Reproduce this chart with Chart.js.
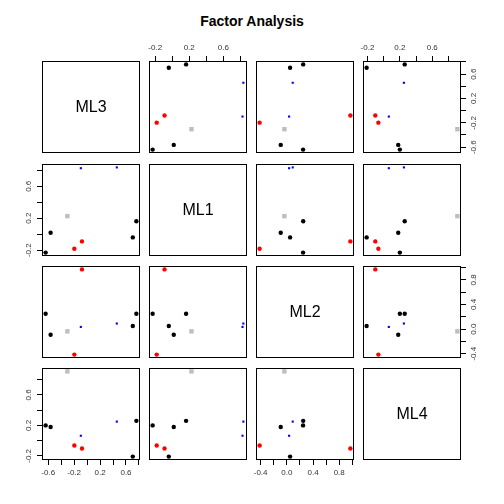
<!DOCTYPE html>
<html>
<head>
<meta charset="utf-8">
<script src="https://cdn.jsdelivr.net/npm/chart.js@4.4.0/dist/chart.umd.min.js"></script>
<style>
  body { margin: 0; background: #fff; }
  #wrap { position: relative; width: 504px; height: 504px; overflow: hidden; background: #fff; }
  #wrap canvas { position: absolute; }
  #title { position: absolute; left: 0; width: 504px; top: 13px; line-height: 16px; text-align: center;
           font: bold 14px 'Liberation Sans', Arial, sans-serif; color: #000; }
</style>
</head>
<body>
<div id="wrap"><div id="title">Factor Analysis</div></div>
<script>
// factor loadings, one entry per item
const factors = ['ML3', 'ML1', 'ML2', 'ML4'];
const ML3 = [0.705, 0.76, 0.458, -0.097, -0.079, -0.197, -0.305, -0.563, -0.64];
const ML1 = [-0.04, 0.163, 0.836, 0.826, -0.09, -0.182, 0.226, 0.018, -0.23];
const ML2 = [0.05, 0.25, 0.09, 0.035, 0.97, -0.415, -0.037, -0.093, 0.248];
const ML4 = [-0.21, 0.26, 0.25, 0.064, -0.103, -0.065, 0.91, 0.18, 0.2];
// cluster each item was put in (1..4)
const cluster = [1, 1, 2, 2, 3, 3, 4, 1, 1];

// ticks per factor, R only labels every other one
const ticksML3 = [-0.6, -0.4, -0.2, 0, 0.2, 0.4, 0.6, 0.8];
const labelsML3 = ['-0.6', '', '-0.2', '', '0.2', '', '0.6', ''];
const ticksML1 = [-0.2, 0, 0.2, 0.4, 0.6, 0.8];
const labelsML1 = ['-0.2', '', '0.2', '', '0.6', ''];
const ticksML2 = [-0.4, -0.2, 0, 0.2, 0.4, 0.6, 0.8, 1.0];
const labelsML2 = ['-0.4', '', '0.0', '', '0.4', '', '0.8', ''];
const ticksML4 = [-0.2, 0, 0.2, 0.4, 0.6, 0.8];
const labelsML4 = ['-0.2', '', '0.2', '', '0.6', ''];

const values = { ML3, ML1, ML2, ML4 };
const tickVals = { ML3: ticksML3, ML1: ticksML1, ML2: ticksML2, ML4: ticksML4 };
const tickLabels = { ML3: labelsML3, ML1: labelsML1, ML2: labelsML2, ML4: labelsML4 };

// look of each cluster
const colour = { 1: '#000000', 2: '#0000FF', 3: '#FF0000', 4: '#BEBEBE' };
const shape = { 1: 'circle', 2: 'rect', 3: 'circle', 4: 'rect' };
const size = { 1: 2.2, 2: 1.5, 3: 2.2, 4: 3.1 };

// panel grid
const colLeft = [42, 149, 256, 363];
const rowTop = [61, 164, 266, 368];
const W = 98, H = 92, M = 30;
const font = "'Liberation Sans', Arial, sans-serif";

// R pairs() stretches each axis 4% past the data
function range(v) {
  const lo = Math.min(...v), hi = Math.max(...v);
  const pad = (hi - lo) * 0.04;
  return [lo - pad, hi + pad];
}

// box round every panel, and the factor name on the diagonal
const boxPlugin = {
  id: 'box',
  afterDraw(chart, args, opts) {
    const a = chart.chartArea, ctx = chart.ctx;
    ctx.save();
    ctx.strokeStyle = '#000';
    ctx.lineWidth = 1;
    ctx.strokeRect(a.left + 0.5, a.top + 0.5, a.right - a.left - 1, a.bottom - a.top - 1);
    if (opts.label) {
      ctx.fillStyle = '#000';
      ctx.font = '16px ' + font;
      ctx.textAlign = 'center';
      ctx.textBaseline = 'middle';
      ctx.fillText(opts.label, (a.left + a.right) / 2, (a.top + a.bottom) / 2 + 1);
    }
    ctx.restore();
  }
};

function axisOpts(name, pos, show, isY) {
  const [min, max] = range(values[name]);
  return {
    type: 'linear',
    position: pos,
    min: min,
    max: max,
    bounds: 'data',
    afterBuildTicks: s => { s.ticks = tickVals[name].map(v => ({ value: v })); },
    afterFit: s => {
      if (isY) s.width = M; else s.height = M;
      s.paddingLeft = s.paddingRight = s.paddingTop = s.paddingBottom = 0;
    },
    border: { display: false },
    grid: { display: show, drawOnChartArea: false, color: '#000', lineWidth: 1, tickLength: 5 },
    ticks: {
      display: show,
      autoSkip: false,
      color: '#333',
      font: { family: font, size: 8 },
      padding: isY ? 1 : 3,
      minRotation: isY ? 90 : 0,
      maxRotation: isY ? 90 : 0,
      crossAlign: isY ? 'center' : 'near',
      callback: (v, i) => tickLabels[name][i]
    }
  };
}

const wrap = document.getElementById('wrap');

for (let i = 0; i < 4; i++) {
  for (let j = 0; j < 4; j++) {
    const xName = factors[j], yName = factors[i];
    const xPos = i === 0 ? 'top' : 'bottom';
    const yPos = j === 3 ? 'right' : 'left';
    const showX = (i === 0 && j % 2 === 1) || (i === 3 && j % 2 === 0);
    const showY = (j === 0 && i % 2 === 1) || (j === 3 && i % 2 === 0);

    const canvas = document.createElement('canvas');
    canvas.width = W + 2 * M;
    canvas.height = H + 2 * M;
    canvas.style.left = (colLeft[j] - M) + 'px';
    canvas.style.top = (rowTop[i] - M) + 'px';
    wrap.appendChild(canvas);

    const datasets = [];
    if (i !== j) {
      datasets.push({
        data: cluster.map((c, k) => ({ x: values[xName][k], y: values[yName][k] })),
        pointStyle: cluster.map(c => shape[c]),
        pointRadius: cluster.map(c => size[c]),
        pointBackgroundColor: cluster.map(c => colour[c]),
        pointBorderWidth: 0,
        showLine: false
      });
    }

    new Chart(canvas, {
      type: 'scatter',
      data: { datasets: datasets },
      options: {
        responsive: false,
        animation: false,
        events: [],
        layout: {
          padding: {
            left: yPos === 'left' ? 0 : M,
            right: yPos === 'right' ? 0 : M,
            top: xPos === 'top' ? 0 : M,
            bottom: xPos === 'bottom' ? 0 : M
          }
        },
        scales: {
          x: axisOpts(xName, xPos, showX, false),
          y: axisOpts(yName, yPos, showY, true)
        },
        plugins: {
          legend: { display: false },
          tooltip: { enabled: false },
          box: { label: i === j ? factors[i] : '' }
        }
      },
      plugins: [boxPlugin]
    });
  }
}
</script>
</body>
</html>
